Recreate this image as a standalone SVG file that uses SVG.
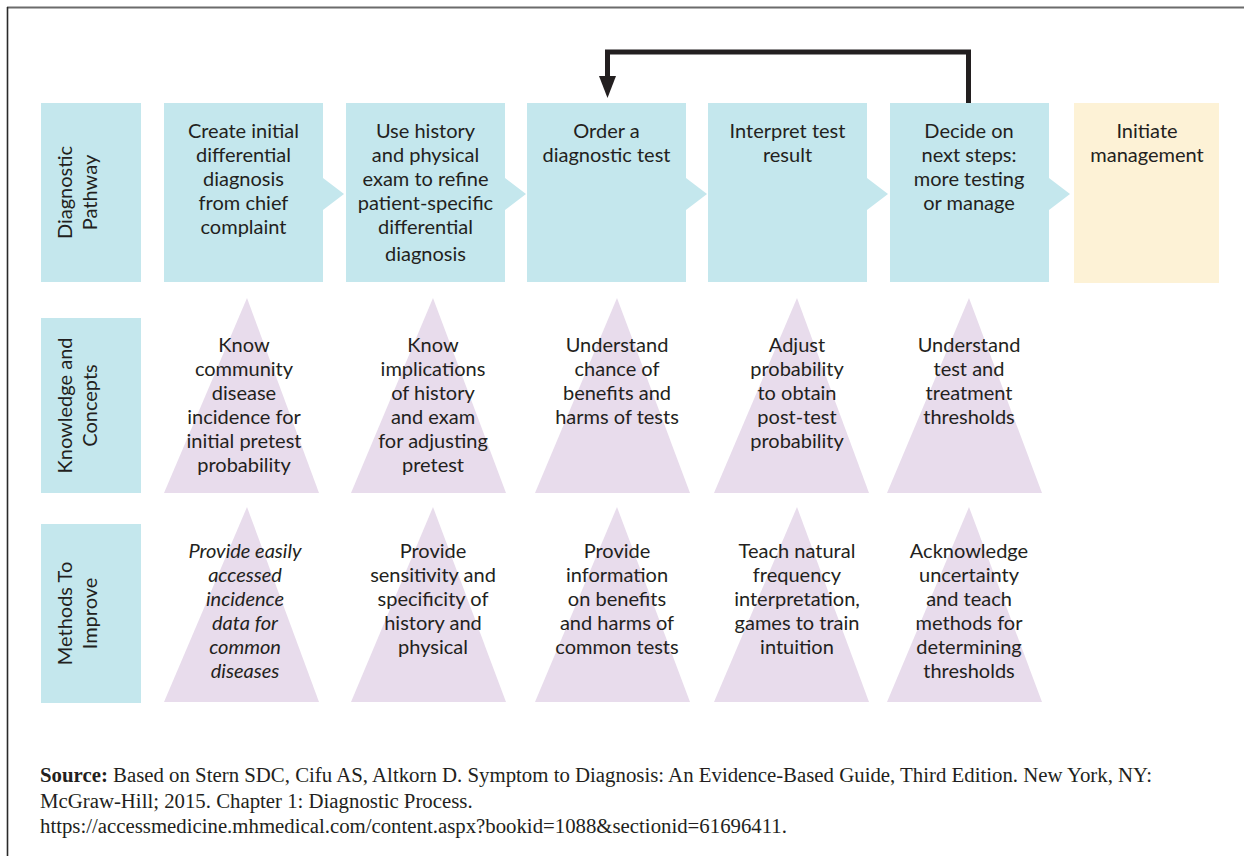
<svg xmlns="http://www.w3.org/2000/svg" width="1244" height="856" viewBox="0 0 1244 856">
<defs>
<style>
.lbl{fill:#c4e7ed}
.box{fill:#c4e7ed}
.fin{fill:#fdf2d6}
.tri{fill:#e8dcec}
.t{font-family:Lato,"Liberation Sans",sans-serif;font-size:20px;fill:#231f20;text-anchor:middle}
.it{font-style:italic}
.src{font-family:"Liberation Serif",serif;font-size:20.8px;fill:#231f20}
.conn{fill:none;stroke:#231f20;stroke-width:5}
</style>
<marker id="ah" viewBox="0 0 22 17" refX="0" refY="8.5" markerWidth="22" markerHeight="17" markerUnits="userSpaceOnUse" orient="auto">
<path d="M0,0 L22,8.5 L0,17 Z" fill="#231f20"/>
</marker>
</defs>
<rect width="1244" height="856" fill="#ffffff"/>
<line x1="7" y1="7.5" x2="1244" y2="7.5" stroke="#6b6b6b" stroke-width="2"/>
<line x1="7.5" y1="7" x2="7.5" y2="856" stroke="#2a2a2a" stroke-width="1.6"/>

<g id="label-pathway">
<rect class="lbl" x="41" y="103" width="100" height="179"/>
<g transform="translate(72,192.5) rotate(-90)"><text class="t" x="0" y="0">Diagnostic</text><text class="t" x="0" y="25">Pathway</text></g>
</g>
<g id="label-knowledge">
<rect class="lbl" x="41" y="318" width="100" height="175"/>
<g transform="translate(72,405.5) rotate(-90)"><text class="t" x="0" y="0">Knowledge and</text><text class="t" x="0" y="25">Concepts</text></g>
</g>
<g id="label-methods">
<rect class="lbl" x="41" y="524" width="100" height="179"/>
<g transform="translate(72,613.5) rotate(-90)"><text class="t" x="0" y="0">Methods To</text><text class="t" x="0" y="25">Improve</text></g>
</g>

<g id="step1">
<path class="box" d="M164,103 H323 V178 L344,194 L323,210 V282 H164 Z"/>
<text class="t" x="243.5" y="138">Create initial</text>
<text class="t" x="243.5" y="162">differential</text>
<text class="t" x="243.5" y="186">diagnosis</text>
<text class="t" x="243.5" y="210">from chief</text>
<text class="t" x="243.5" y="234">complaint</text>
</g>
<g id="step2">
<path class="box" d="M346,103 H505 V178 L526,194 L505,210 V282 H346 Z"/>
<text class="t" x="425.5" y="138">Use history</text>
<text class="t" x="425.5" y="162">and physical</text>
<text class="t" x="425.5" y="186">exam to refine</text>
<text class="t" x="425.5" y="210">patient-specific</text>
<text class="t" x="425.5" y="234">differential</text>
<text class="t" x="425.5" y="261">diagnosis</text>
</g>
<g id="step3">
<path class="box" d="M527,103 H686 V178 L707,194 L686,210 V282 H527 Z"/>
<text class="t" x="606.5" y="138">Order a</text>
<text class="t" x="606.5" y="162">diagnostic test</text>
</g>
<g id="step4">
<path class="box" d="M708,103 H867 V178 L888,194 L867,210 V282 H708 Z"/>
<text class="t" x="787.5" y="138">Interpret test</text>
<text class="t" x="787.5" y="162">result</text>
</g>
<g id="step5">
<path class="box" d="M890,103 H1049 V178 L1070,194 L1049,210 V282 H890 Z"/>
<text class="t" x="969" y="138">Decide on</text>
<text class="t" x="969" y="162">next steps:</text>
<text class="t" x="969" y="186">more testing</text>
<text class="t" x="969" y="210">or manage</text>
</g>
<g id="step6">
<rect class="fin" x="1074" y="103" width="145" height="180"/>
<text class="t" x="1147" y="138">Initiate</text>
<text class="t" x="1147" y="162">management</text>
</g>

<g id="connectors">
<path class="conn" d="M968.5,103 V52 H607.5 V76" marker-end="url(#ah)"/>
</g>

<g id="know1">
<polygon class="tri" points="247,298 319,493 164,493"/>
<text class="t" x="244" y="352">Know</text>
<text class="t" x="244" y="376">community</text>
<text class="t" x="244" y="400">disease</text>
<text class="t" x="244" y="424">incidence for</text>
<text class="t" x="244" y="448">initial pretest</text>
<text class="t" x="244" y="472">probability</text>
</g>
<g id="know2">
<polygon class="tri" points="433,298 506,493 351,493"/>
<text class="t" x="433" y="352">Know</text>
<text class="t" x="433" y="376">implications</text>
<text class="t" x="433" y="400">of history</text>
<text class="t" x="433" y="424">and exam</text>
<text class="t" x="433" y="448">for adjusting</text>
<text class="t" x="433" y="472">pretest</text>
</g>
<g id="know3">
<polygon class="tri" points="617,298 690,493 535,493"/>
<text class="t" x="617" y="352">Understand</text>
<text class="t" x="617" y="376">chance of</text>
<text class="t" x="617" y="400">benefits and</text>
<text class="t" x="617" y="424">harms of tests</text>
</g>
<g id="know4">
<polygon class="tri" points="797,298 869,493 714,493"/>
<text class="t" x="797" y="352">Adjust</text>
<text class="t" x="797" y="376">probability</text>
<text class="t" x="797" y="400">to obtain</text>
<text class="t" x="797" y="424">post-test</text>
<text class="t" x="797" y="448">probability</text>
</g>
<g id="know5">
<polygon class="tri" points="969,298 1042,493 887,493"/>
<text class="t" x="969" y="352">Understand</text>
<text class="t" x="969" y="376">test and</text>
<text class="t" x="969" y="400">treatment</text>
<text class="t" x="969" y="424">thresholds</text>
</g>

<g id="method1">
<polygon class="tri" points="247,507 319,702 164,702"/>
<text class="t it" x="245" y="558">Provide easily</text>
<text class="t it" x="245" y="582">accessed</text>
<text class="t it" x="245" y="606">incidence</text>
<text class="t it" x="245" y="630">data for</text>
<text class="t it" x="245" y="654">common</text>
<text class="t it" x="245" y="678">diseases</text>
</g>
<g id="method2">
<polygon class="tri" points="433,507 506,702 351,702"/>
<text class="t" x="433" y="558">Provide</text>
<text class="t" x="433" y="582">sensitivity and</text>
<text class="t" x="433" y="606">specificity of</text>
<text class="t" x="433" y="630">history and</text>
<text class="t" x="433" y="654">physical</text>
</g>
<g id="method3">
<polygon class="tri" points="617,507 690,702 535,702"/>
<text class="t" x="617" y="558">Provide</text>
<text class="t" x="617" y="582">information</text>
<text class="t" x="617" y="606">on benefits</text>
<text class="t" x="617" y="630">and harms of</text>
<text class="t" x="617" y="654">common tests</text>
</g>
<g id="method4">
<polygon class="tri" points="797,507 869,702 714,702"/>
<text class="t" x="797" y="558">Teach natural</text>
<text class="t" x="797" y="582">frequency</text>
<text class="t" x="797" y="606">interpretation,</text>
<text class="t" x="797" y="630">games to train</text>
<text class="t" x="797" y="654">intuition</text>
</g>
<g id="method5">
<polygon class="tri" points="969,507 1042,702 887,702"/>
<text class="t" x="969" y="558">Acknowledge</text>
<text class="t" x="969" y="582">uncertainty</text>
<text class="t" x="969" y="606">and teach</text>
<text class="t" x="969" y="630">methods for</text>
<text class="t" x="969" y="654">determining</text>
<text class="t" x="969" y="678">thresholds</text>
</g>

<g id="source">
<text class="src" x="40" y="782" textLength="1112" lengthAdjust="spacingAndGlyphs"><tspan font-weight="bold">Source:</tspan> Based on Stern SDC, Cifu AS, Altkorn D. Symptom to Diagnosis: An Evidence-Based Guide, Third Edition. New York, NY:</text>
<text class="src" x="40" y="807.5">McGraw-Hill; 2015. Chapter 1: Diagnostic Process.</text>
<text class="src" x="40" y="833">https://accessmedicine.mhmedical.com/content.aspx?bookid=1088&amp;sectionid=61696411.</text>
</g>
</svg>
